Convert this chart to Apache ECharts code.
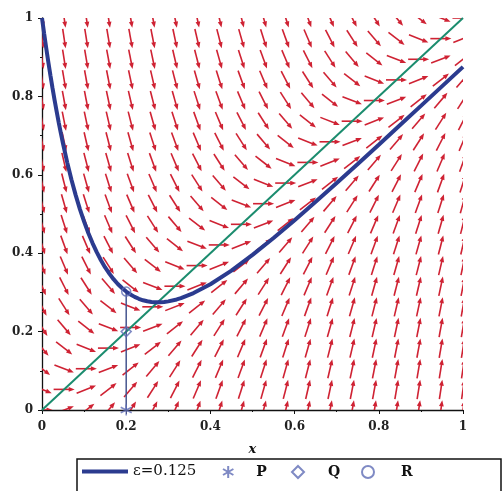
<!DOCTYPE html>
<html><head><meta charset="utf-8">
<script src="https://cdn.jsdelivr.net/npm/echarts@6/dist/echarts.min.js"></script>
<style>html,body{margin:0;padding:0;background:#fff}#c{width:503px;height:491px}</style>
</head><body><div id="c"></div>
<script>
// ---- data ----
const gridX = [0,0.0526,0.1053,0.1579,0.2105,0.2632,0.3158,0.3684,0.4211,0.4737,0.5263,0.5789,0.6316,0.6842,0.7368,0.7895,0.8421,0.8947,0.9474,1];
const gridY = [0,0.0526,0.1053,0.1579,0.2105,0.2632,0.3158,0.3684,0.4211,0.4737,0.5263,0.5789,0.6316,0.6842,0.7368,0.7895,0.8421,0.8947,0.9474,1];
// slope of the direction-field arrow at (gridX[i], gridY[j]) -> slopes[j][i]
const slopes = [
[0,0.42,0.84,1.26,1.68,2.11,2.53,2.95,3.37,3.79,4.21,4.63,5.05,5.47,5.89,6.32,6.74,7.16,7.58,8],
[-0.42,0,0.42,0.84,1.26,1.68,2.11,2.53,2.95,3.37,3.79,4.21,4.63,5.05,5.47,5.89,6.32,6.74,7.16,7.58],
[-0.84,-0.42,0,0.42,0.84,1.26,1.68,2.11,2.53,2.95,3.37,3.79,4.21,4.63,5.05,5.47,5.89,6.32,6.74,7.16],
[-1.26,-0.84,-0.42,0,0.42,0.84,1.26,1.68,2.11,2.53,2.95,3.37,3.79,4.21,4.63,5.05,5.47,5.89,6.32,6.74],
[-1.68,-1.26,-0.84,-0.42,0,0.42,0.84,1.26,1.68,2.11,2.53,2.95,3.37,3.79,4.21,4.63,5.05,5.47,5.89,6.32],
[-2.11,-1.68,-1.26,-0.84,-0.42,0,0.42,0.84,1.26,1.68,2.11,2.53,2.95,3.37,3.79,4.21,4.63,5.05,5.47,5.89],
[-2.53,-2.11,-1.68,-1.26,-0.84,-0.42,0,0.42,0.84,1.26,1.68,2.11,2.53,2.95,3.37,3.79,4.21,4.63,5.05,5.47],
[-2.95,-2.53,-2.11,-1.68,-1.26,-0.84,-0.42,0,0.42,0.84,1.26,1.68,2.11,2.53,2.95,3.37,3.79,4.21,4.63,5.05],
[-3.37,-2.95,-2.53,-2.11,-1.68,-1.26,-0.84,-0.42,0,0.42,0.84,1.26,1.68,2.11,2.53,2.95,3.37,3.79,4.21,4.63],
[-3.79,-3.37,-2.95,-2.53,-2.11,-1.68,-1.26,-0.84,-0.42,0,0.42,0.84,1.26,1.68,2.11,2.53,2.95,3.37,3.79,4.21],
[-4.21,-3.79,-3.37,-2.95,-2.53,-2.11,-1.68,-1.26,-0.84,-0.42,0,0.42,0.84,1.26,1.68,2.11,2.53,2.95,3.37,3.79],
[-4.63,-4.21,-3.79,-3.37,-2.95,-2.53,-2.11,-1.68,-1.26,-0.84,-0.42,0,0.42,0.84,1.26,1.68,2.11,2.53,2.95,3.37],
[-5.05,-4.63,-4.21,-3.79,-3.37,-2.95,-2.53,-2.11,-1.68,-1.26,-0.84,-0.42,0,0.42,0.84,1.26,1.68,2.11,2.53,2.95],
[-5.47,-5.05,-4.63,-4.21,-3.79,-3.37,-2.95,-2.53,-2.11,-1.68,-1.26,-0.84,-0.42,0,0.42,0.84,1.26,1.68,2.11,2.53],
[-5.89,-5.47,-5.05,-4.63,-4.21,-3.79,-3.37,-2.95,-2.53,-2.11,-1.68,-1.26,-0.84,-0.42,0,0.42,0.84,1.26,1.68,2.11],
[-6.32,-5.89,-5.47,-5.05,-4.63,-4.21,-3.79,-3.37,-2.95,-2.53,-2.11,-1.68,-1.26,-0.84,-0.42,0,0.42,0.84,1.26,1.68],
[-6.74,-6.32,-5.89,-5.47,-5.05,-4.63,-4.21,-3.79,-3.37,-2.95,-2.53,-2.11,-1.68,-1.26,-0.84,-0.42,0,0.42,0.84,1.26],
[-7.16,-6.74,-6.32,-5.89,-5.47,-5.05,-4.63,-4.21,-3.79,-3.37,-2.95,-2.53,-2.11,-1.68,-1.26,-0.84,-0.42,0,0.42,0.84],
[-7.58,-7.16,-6.74,-6.32,-5.89,-5.47,-5.05,-4.63,-4.21,-3.79,-3.37,-2.95,-2.53,-2.11,-1.68,-1.26,-0.84,-0.42,0,0.42],
[-8,-7.58,-7.16,-6.74,-6.32,-5.89,-5.47,-5.05,-4.63,-4.21,-3.79,-3.37,-2.95,-2.53,-2.11,-1.68,-1.26,-0.84,-0.42,0]
];
const curveX = [0,0.005,0.01,0.015,0.02,0.025,0.03,0.035,0.04,0.045,0.05,0.06,0.07,0.08,0.09,0.10,0.11,0.12,0.13,0.14,0.15,0.16,0.17,0.18,0.19,0.20,0.21,0.22,0.23,0.24,0.25,0.26,0.27,0.28,0.29,0.30,0.32,0.33,0.36,0.40,0.45,0.50,0.55,0.60,0.65,0.70,0.75,0.80,0.85,0.90,0.95,1.0];
const curveY = [1.0,0.9609,0.9235,0.8878,0.8537,0.8211,0.7900,0.7603,0.7319,0.7049,0.6791,0.6311,0.5876,0.5482,0.5126,0.4805,0.4516,0.4258,0.4026,0.3821,0.3638,0.3478,0.3337,0.3215,0.3111,0.3021,0.2947,0.2886,0.2837,0.2799,0.2773,0.2756,0.2748,0.2748,0.2756,0.2771,0.2820,0.2853,0.2982,0.3209,0.3557,0.3956,0.4388,0.4843,0.5312,0.5792,0.6278,0.6769,0.7263,0.7758,0.8256,0.8754];
const diagX = [0, 1];
const diagY = [0, 1];
const pointP = [0.2, 0];
const pointQ = [0.2, 0.2];
const pointR = [0.2, 0.302];
const epsLabel = 'ε=0.125';
const markerNames = ['P', 'Q', 'R'];

// ---- styles ----
const RED = '#cf2233';
const BLUE = '#2b3b8f';
const TEAL = '#1b8c6e';
const MARK = '#5f6db5';
const ARROW_LEN = 0.05;
const SERIF = 'DejaVu Serif';

const arrowData = [];
for (let j = 0; j < gridY.length; j++)
  for (let i = 0; i < gridX.length; i++)
    arrowData.push([gridX[i], gridY[j], slopes[j][i]]);

function renderArrow(params, api) {
  const x = api.value(0), y = api.value(1), s = api.value(2);
  const n = Math.sqrt(1 + s * s);
  const h = ARROW_LEN / 2;
  const dx = h / n, dy = h * s / n;
  const a = api.coord([x - dx, y - dy]);
  const b = api.coord([x + dx, y + dy]);
  const vx = b[0] - a[0], vy = b[1] - a[1];
  const L = Math.sqrt(vx * vx + vy * vy);
  const ux = vx / L, uy = vy / L;
  const hl = 6, hw = 2.4;
  const base = [b[0] - ux * hl, b[1] - uy * hl];
  const p1 = [base[0] - uy * hw, base[1] + ux * hw];
  const p2 = [base[0] + uy * hw, base[1] - ux * hw];
  return { type: 'group', children: [
    { type: 'line', shape: { x1: a[0], y1: a[1], x2: base[0] + ux * 2, y2: base[1] + uy * 2 }, style: { stroke: RED, lineWidth: 1.6 } },
    { type: 'polygon', shape: { points: [b, p1, p2] }, style: { fill: RED } }
  ]};
}

const zip = (xs, ys) => xs.map((v, k) => [v, ys[k]]);
const axisCommon = {
  type: 'value', min: 0, max: 1, interval: 0.2,
  splitLine: { show: false },
  axisLine: { show: true, onZero: false, lineStyle: { color: '#111', width: 1.3 } },
  axisTick: { show: true, inside: false, length: 4, lineStyle: { color: '#111' } },
  minorTick: { show: true, splitNumber: 2, length: 2, lineStyle: { color: '#111' } },
  axisLabel: { fontFamily: SERIF, fontWeight: 'bold', fontSize: 12, color: '#222' }
};
const markText = { fontFamily: SERIF, fontWeight: 'bold', fontSize: 14, color: '#111' };

const chart = echarts.init(document.getElementById('c'));
chart.setOption({
  animation: false,
  backgroundColor: '#fff',
  grid: { left: 42, right: 40, top: 18, bottom: 81, containLabel: false, outerBoundsMode: 'none' },
  xAxis: Object.assign({}, axisCommon, {
    axisLabel: Object.assign({}, axisCommon.axisLabel, { margin: 11 }),
    name: 'x', nameLocation: 'middle', nameGap: 33,
    nameTextStyle: { fontFamily: SERIF, fontStyle: 'italic', fontWeight: 'bold', fontSize: 13, color: '#111' }
  }),
  yAxis: Object.assign({}, axisCommon, {
    axisLabel: Object.assign({}, axisCommon.axisLabel, { margin: 9 })
  }),
  legend: [
    { data: [{ name: epsLabel, icon: 'rect', itemStyle: { color: BLUE } }], left: 82, top: 464, itemWidth: 46, itemHeight: 4, padding: 0, selectedMode: false,
      textStyle: { fontFamily: SERIF, fontSize: 15, color: '#111' } },
    { data: [markerNames[0]], left: 222, top: 465, itemWidth: 12, itemHeight: 12, padding: 0, selectedMode: false,
      textStyle: Object.assign({ padding: [0, 0, 0, 17] }, markText) },
    { data: [markerNames[1]], left: 291, top: 465, itemWidth: 12, itemHeight: 12, padding: 0, selectedMode: false,
      textStyle: Object.assign({ padding: [0, 0, 0, 19] }, markText) },
    { data: [markerNames[2]], left: 361, top: 465, itemWidth: 12, itemHeight: 12, padding: 0, selectedMode: false,
      textStyle: Object.assign({ padding: [0, 0, 0, 22] }, markText) }
  ],
  graphic: [
    { type: 'rect', shape: { x: 77, y: 459, width: 424, height: 50 }, style: { fill: 'none', stroke: '#111', lineWidth: 1.5 }, silent: true }
  ],
  series: [
    { type: 'custom', name: 'field', renderItem: renderArrow, data: arrowData, clip: true, z: 1,
      encode: { x: 0, y: 1 }, silent: true },
    { type: 'line', name: 'diag', data: zip(diagX, diagY), symbol: 'none', lineStyle: { color: TEAL, width: 2 }, z: 2, silent: true },
    { type: 'line', name: 'PR', data: [pointP, pointR], symbol: 'none', lineStyle: { color: '#45558f', width: 1.5 }, z: 3, silent: true },
    { type: 'line', name: epsLabel, data: zip(curveX, curveY), symbol: 'none', showSymbol: false, smooth: false,
      lineStyle: { color: BLUE, width: 4 }, itemStyle: { color: BLUE }, z: 4, silent: true },
    { type: 'scatter', name: markerNames[0], data: [pointP], symbol: 'path://M0,-10L0,10M-8.66,-5L8.66,5M-8.66,5L8.66,-5',
      symbolSize: 11, itemStyle: { color: 'rgba(0,0,0,0)', borderColor: MARK, borderWidth: 1.5 }, z: 5 },
    { type: 'scatter', name: markerNames[1], data: [pointQ], symbol: 'diamond', symbolSize: 10,
      itemStyle: { color: 'rgba(0,0,0,0)', borderColor: MARK, borderWidth: 1.5 }, z: 5 },
    { type: 'scatter', name: markerNames[2], data: [pointR], symbol: 'circle', symbolSize: 9,
      itemStyle: { color: 'rgba(0,0,0,0)', borderColor: MARK, borderWidth: 1.5 }, z: 5 }
  ]
});
</script>
</body></html>
